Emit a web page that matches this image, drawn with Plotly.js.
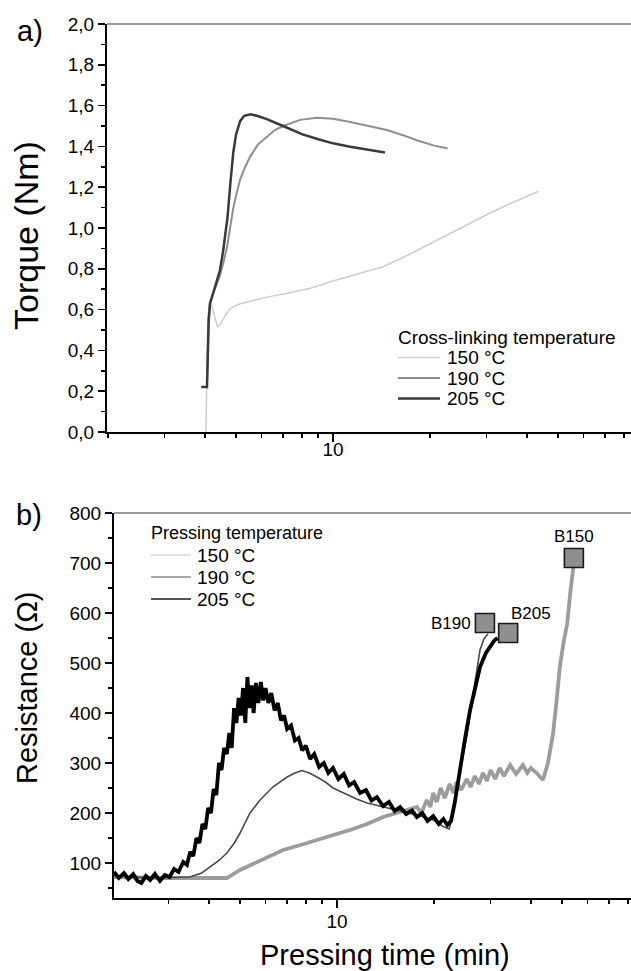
<!DOCTYPE html>
<html>
<head>
<meta charset="utf-8">
<script src="https://cdn.plot.ly/plotly-3.0.1.min.js"></script>
<style>html,body{margin:0;padding:0;background:#fff;}#plot{width:631px;height:971px;}</style>
</head>
<body>
<div id="plot"></div>
<script>
// ---------- Panel a: torque (Nm) vs time (min) ----------
const t150a = [4.03, 4.05, 4.08, 4.12, 4.2, 4.3, 4.38, 4.48, 4.62, 4.8, 5.05, 5.5, 6.2, 7.2, 8.5, 10, 12, 14.3, 17, 20.4, 25, 30, 35, 40, 43.5];
const T150a = [0.0, 0.25, 0.52, 0.63, 0.62, 0.56, 0.515, 0.53, 0.57, 0.605, 0.625, 0.64, 0.66, 0.68, 0.705, 0.74, 0.775, 0.81, 0.865, 0.93, 1.0, 1.065, 1.115, 1.155, 1.18];

const t190a = [3.9, 4.06, 4.08, 4.11, 4.15, 4.22, 4.32, 4.46, 4.58, 4.69, 4.79, 4.89, 5.0, 5.14, 5.3, 5.53, 5.85, 6.24, 6.6, 7.0, 7.9, 8.9, 10, 11.3, 13, 14.7, 16.5, 18.2, 20.5, 22.7];
const T190a = [0.22, 0.22, 0.35, 0.55, 0.63, 0.67, 0.71, 0.77, 0.84, 0.91, 1.0, 1.09, 1.16, 1.235, 1.29, 1.35, 1.41, 1.45, 1.48, 1.50, 1.53, 1.54, 1.535, 1.52, 1.50, 1.48, 1.455, 1.43, 1.405, 1.39];

const t205a = [3.9, 4.06, 4.08, 4.11, 4.15, 4.22, 4.32, 4.45, 4.55, 4.7, 4.8, 4.9, 5.0, 5.15, 5.3, 5.55, 5.8, 6.2, 7.0, 8.0, 9.0, 10, 11.3, 13, 14.5];
const T205a = [0.22, 0.22, 0.35, 0.55, 0.63, 0.67, 0.72, 0.79, 0.88, 1.05, 1.22, 1.37, 1.46, 1.525, 1.55, 1.557, 1.55, 1.535, 1.50, 1.46, 1.435, 1.415, 1.398, 1.382, 1.37];

// ---------- Panel b: resistance (Ω) vs pressing time (min) ----------
const t150b = [2.03, 2.5, 3.0, 3.5, 4.0, 4.55, 5.0, 5.4, 5.77, 6.3, 6.8, 7.7, 8.67, 9.8, 10.97, 12.4, 13.9, 15.7, 17.7, 18.3, 19.0, 19.5, 19.9, 20.4, 21.0, 21.6, 22.4, 23.0, 23.5, 24.3, 25.3, 26.0, 26.8, 27.6, 28.4, 29.2, 30.0, 31.0, 32.0, 33.0, 34.5, 36.0, 37.8, 39.0, 40.0, 41.7, 43.6, 45.2, 46.9, 48.0, 49.2, 50.5, 51.9, 53.0, 54.4];
const R150b = [72, 70, 70, 70, 70, 70, 86, 96, 106, 116, 126, 136, 146, 156, 166, 178, 192, 202, 212, 200, 226, 212, 240, 222, 250, 230, 258, 240, 262, 246, 268, 252, 274, 258, 280, 264, 286, 268, 290, 274, 296, 278, 296, 280, 290, 280, 266, 300, 360, 420, 492, 540, 580, 640, 700];

const t190b = [2.03, 2.3, 2.7, 3.0, 3.49, 3.8, 4.04, 4.3, 4.55, 4.8, 5.0, 5.2, 5.37, 5.77, 6.32, 7.0, 7.4, 7.78, 8.2, 8.67, 9.2, 9.72, 10.5, 11.5, 12.4, 13.9, 15.7, 17.7, 19.9, 21.5, 22.3, 23.0, 23.6, 24.5, 25.4, 26.5, 27.8, 28.6, 29.4];
const R190b = [75, 72, 70, 71, 72, 80, 92, 105, 120, 140, 160, 182, 200, 226, 252, 272, 280, 285, 280, 272, 262, 250, 240, 228, 220, 212, 204, 196, 186, 172, 168, 200, 252, 310, 360, 440, 526, 548, 558];

const t205b = [2.03, 2.1, 2.18, 2.25, 2.33, 2.4, 2.47, 2.55, 2.63, 2.72,
  2.82, 2.92, 3.02, 3.12, 3.22, 3.33, 3.42, 3.5, 3.58, 3.66,
  3.74, 3.82, 3.9, 3.98, 4.06, 4.14, 4.22, 4.3, 4.38, 4.46,
  4.55, 4.63, 4.71, 4.79, 4.87, 4.95, 5.03, 5.11, 5.19, 5.27,
  5.35, 5.43, 5.51, 5.6, 5.7, 5.8, 5.9, 6.0, 6.12, 6.25,
  6.4, 6.55, 6.7, 6.85, 7.0, 7.2, 7.4, 7.6, 7.8, 8.0,
  8.25, 8.5, 8.8, 9.1, 9.4, 9.72, 10.1, 10.5, 10.9, 11.3,
  11.8, 12.3, 12.8, 13.3, 13.9, 14.5, 15.1, 15.7, 16.4, 17.1,
  17.7, 18.4, 19.1, 19.9, 20.7, 21.4, 22.0, 22.6, 23.2, 24.1,
  25.0, 25.9, 26.8, 27.8, 29.0, 30.0, 30.8, 31.5];
const R205b = [82, 70, 80, 68, 78, 64, 60, 74, 66, 78,
  64, 76, 72, 88, 82, 102, 96, 122, 114, 150,
  140, 178, 168, 210, 200, 248, 236, 300, 286, 330,
  318, 360, 330, 410, 380, 430, 395, 450, 380, 472,
  410, 455, 400, 460, 420, 462, 425, 450, 420, 440,
  405, 420, 385, 395, 368, 375, 345, 350, 325, 335,
  308, 318, 292, 300, 280, 290, 268, 278, 255, 262,
  240, 246, 225, 232, 214, 222, 204, 212, 198, 205,
  192, 200, 184, 194, 178, 188, 176, 184, 220, 290,
  350, 406, 450, 492, 520, 535, 545, 550];

// breakpoints
const bLabels = ['B150', 'B190', 'B205'];
const bTime = [54.4, 28.8, 34.0];
const bRes = [710, 580, 560];

const seriesNames = ['150 °C', '190 °C', '205 °C'];
const legendTitleA = 'Cross-linking temperature';
const legendTitleB = 'Pressing temperature';
const xMajor = [10];
const xMajorText = ['10'];
const xMinor = [2, 3, 4, 5, 6, 7, 8, 9, 20, 30, 40, 50, 60, 70, 80];

const FONT = 'Arial, "Liberation Sans", Helvetica, sans-serif';
const W = 631, H = 971;
const px = v => v / W;
const py = v => 1 - v / H;

const colA = ['#cdcdcd', '#8e8e8e', '#3a3a3a'];
const widA = [1.5, 2, 2.5];
const colB = ['#9c9c9c', '#4a4a4a', '#000000'];
const widB = [3.8, 1.6, 3.8];
const legColB = ['#d6d6d6', '#a8a8a8', '#555555'];

const tA = [t150a, t190a, t205a], vA = [T150a, T190a, T205a];
const tB = [t150b, t190b, t205b], vB = [R150b, R190b, R205b];

const traces = [];
seriesNames.forEach((n, i) => traces.push({x: tA[i], y: vA[i], name: n, xaxis: 'x', yaxis: 'y', mode: 'lines',
  line: {color: colA[i], width: widA[i]}, showlegend: false}));
seriesNames.forEach((n, i) => traces.push({x: tB[i], y: vB[i], name: n, xaxis: 'x2', yaxis: 'y2', mode: 'lines',
  line: {color: colB[i], width: widB[i]}, showlegend: false}));
traces.push({x: bTime, y: bRes, xaxis: 'x2', yaxis: 'y2', mode: 'markers', showlegend: false, hoverinfo: 'skip',
  marker: {symbol: 'square', size: 19, color: '#8f8f8f', line: {color: '#1a1a1a', width: 1.6}}});

const xCommon = {
  type: 'log', tickmode: 'array', tickvals: xMajor, ticktext: xMajorText,
  ticks: 'outside', ticklen: 8, tickwidth: 1.6, tickcolor: '#000',
  showline: true, linecolor: '#000', linewidth: 2, showgrid: false, zeroline: false,
  tickfont: {size: 19, family: FONT, color: '#000'},
  minor: {tickmode: 'array', tickvals: xMinor, ticks: 'outside', ticklen: 4, tickwidth: 1.6, tickcolor: '#000', showgrid: false}
};
const yCommon = {
  ticks: 'outside', ticklen: 7, tickwidth: 1.6, tickcolor: '#000',
  showline: true, linecolor: '#000', linewidth: 2, showgrid: false, zeroline: false,
  tickfont: {size: 19, family: FONT, color: '#000'}
};

const annFont = s => ({size: s, family: FONT, color: '#000'});
const annotations = [
  {text: 'a)', xref: 'paper', yref: 'paper', x: px(30), y: py(31), showarrow: false, font: annFont(29), xanchor: 'center', yanchor: 'middle'},
  {text: 'b)', xref: 'paper', yref: 'paper', x: px(29), y: py(515), showarrow: false, font: annFont(29), xanchor: 'center', yanchor: 'middle'},
  {text: 'Torque (Nm)', xref: 'paper', yref: 'paper', x: px(26), y: py(236), showarrow: false, textangle: -90, font: annFont(34), xanchor: 'center', yanchor: 'middle'},
  {text: 'Resistance (Ω)', xref: 'paper', yref: 'paper', x: px(27), y: py(688), showarrow: false, textangle: -90, font: annFont(29), xanchor: 'center', yanchor: 'middle'},
  {text: 'Pressing time (min)', xref: 'paper', yref: 'paper', x: px(385), y: py(955), showarrow: false, font: annFont(29), xanchor: 'center', yanchor: 'middle'}
];
const bPos = [
  {xanchor: 'center', xshift: 0, yshift: 22},
  {xanchor: 'right', xshift: -12, yshift: 0},
  {xanchor: 'left', xshift: 1, yshift: 20}
];
bLabels.forEach((lab, i) => annotations.push(Object.assign({
  text: lab, xref: 'x2', yref: 'y2', x: Math.log10(bTime[i]), y: bRes[i], showarrow: false,
  font: annFont(17), yanchor: 'middle'}, bPos[i])));

const shapes = [
  {type: 'line', xref: 'x domain', yref: 'y domain', x0: 0, x1: 1, y0: 1, y1: 1, line: {color: '#9a9a9a', width: 2}},
  {type: 'line', xref: 'x2 domain', yref: 'y2 domain', x0: 0, x1: 1, y0: 1, y1: 1, line: {color: '#9a9a9a', width: 2}}
];

// legend boxes (title + line samples + labels)
function addLegend(title, titleSize, itemSize, x0, yTitle, dy, lineLen, textGap, colors, widths) {
  annotations.push({text: title, xref: 'paper', yref: 'paper', x: px(x0 - 2), y: py(yTitle), showarrow: false,
    font: annFont(titleSize), xanchor: 'left', yanchor: 'middle'});
  seriesNames.forEach((n, i) => {
    const yy = yTitle + dy * (i + 1);
    shapes.push({type: 'line', xref: 'paper', yref: 'paper', x0: px(x0), x1: px(x0 + lineLen), y0: py(yy), y1: py(yy),
      line: {color: colors[i], width: widths[i]}});
    annotations.push({text: n, xref: 'paper', yref: 'paper', x: px(x0 + lineLen + textGap - 2), y: py(yy), showarrow: false,
      font: annFont(itemSize), xanchor: 'left', yanchor: 'middle'});
  });
}
addLegend(legendTitleA, 19, 19, 398, 337, 20.5, 42, 7, colA, [1.5, 2, 2.5]);
addLegend(legendTitleB, 18, 19, 151, 533, 22, 40, 6, legColB, [1.5, 2, 2.2]);

const layout = {
  width: W, height: H, margin: {l: 0, r: 0, t: 0, b: 0, pad: 0},
  paper_bgcolor: '#fff', plot_bgcolor: '#fff', separators: ',.', showlegend: false,
  font: {family: FONT, color: '#000'},
  xaxis: Object.assign({}, xCommon, {domain: [px(107), 1], range: [0.298, 1.9255], anchor: 'y', ticklabelstandoff: -9}),
  yaxis: Object.assign({}, yCommon, {domain: [py(432), py(24)], range: [0, 2], anchor: 'x',
    tickmode: 'linear', tick0: 0, dtick: 0.2, tickformat: '.1f',
    minor: {tick0: 0, dtick: 0.1, ticks: 'outside', ticklen: 4, tickwidth: 1.6, tickcolor: '#000', showgrid: false}}),
  xaxis2: Object.assign({}, xCommon, {domain: [px(114), 1], range: [0.3075, 1.913], anchor: 'y2', ticklabelstandoff: -3}),
  yaxis2: Object.assign({}, yCommon, {domain: [py(898), py(513)], range: [30, 800], anchor: 'x2',
    tickmode: 'linear', tick0: 0, dtick: 100,
    minor: {tick0: 0, dtick: 50, ticks: 'outside', ticklen: 4, tickwidth: 1.6, tickcolor: '#000', showgrid: false}}),
  shapes: shapes,
  annotations: annotations
};

Plotly.newPlot('plot', traces, layout, {staticPlot: true, displayModeBar: false});
</script>
</body>
</html>
